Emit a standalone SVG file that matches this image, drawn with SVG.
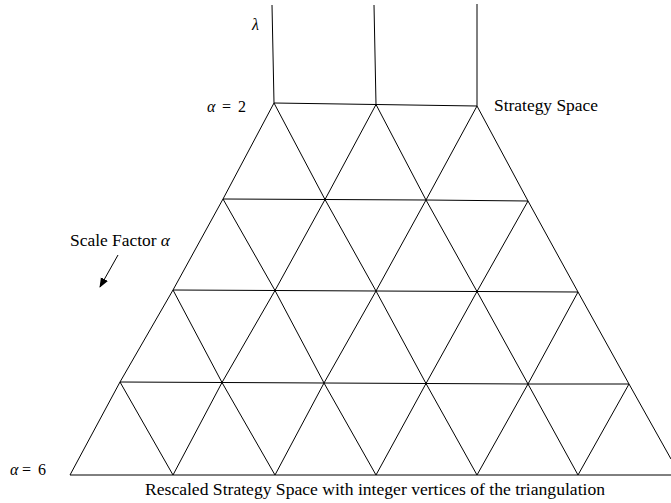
<svg xmlns="http://www.w3.org/2000/svg" width="671" height="503" viewBox="0 0 671 503">
<style>
.l{fill:none;stroke:#000;stroke-width:1;stroke-linejoin:round}
text{font-family:'Liberation Serif','DejaVu Serif',serif;font-size:16px;fill:#000}
.m{font-style:italic}
</style>
<defs>
<marker id="ah" markerWidth="10" markerHeight="10" refX="9" refY="5" orient="auto" markerUnits="userSpaceOnUse">
<path d="M0,1 L10,5 L0,9 Z" fill="#000"/>
</marker>
</defs>
<rect width="671" height="503" fill="#fff"/>
<g id="connectors">
<g id="lambda-axes">
<polyline class="l" points="272,5 274,103"/>
<polyline class="l" points="374,5 376,104.5"/>
<polyline class="l" points="477,4 477,106"/>
</g>
<g id="rows">
<polyline class="l" points="274,103 376,104.5 477,106"/>
<polyline class="l" points="223,199 325,199.5 426,200 528,201"/>
<polyline class="l" points="173,290 275,290.5 376,291 477,291.5 578,292"/>
<polyline class="l" points="120,382 222,382.5 324,383 426,383.5 528,384 629,384"/>
<polyline class="l" points="70,475 671,475"/>
</g>
<g id="diag-left">
<polyline class="l" points="274,103 223,199 173,290 120,382 70,475"/>
<polyline class="l" points="376,104.5 325,199.5 275,290.5 222,382.5 173,475"/>
<polyline class="l" points="477,106 426,200 376,291 324,383 275,475"/>
<polyline class="l" points="528,201 477,291.5 426,383.5 376,475"/>
<polyline class="l" points="578,292 528,384 477,475"/>
<polyline class="l" points="629,384 578,475"/>
</g>
<g id="diag-right">
<polyline class="l" points="477,106 528,201 578,292 629,384 671,459"/>
<polyline class="l" points="376,104.5 426,200 477,291.5 528,384 578,475"/>
<polyline class="l" points="274,103 325,199.5 376,291 426,383.5 477,475"/>
<polyline class="l" points="223,199 275,290.5 324,383 376,475"/>
<polyline class="l" points="173,290 222,382.5 275,475"/>
<polyline class="l" points="120,382 173,475"/>
</g>
<line id="scale-arrow" class="l" x1="118" y1="255" x2="100" y2="287" marker-end="url(#ah)"/>
</g>
<g id="labels">
<text id="lambda" class="m" x="252" y="30">λ</text>
<text id="alpha2" x="207" y="112"><tspan class="m">α</tspan><tspan x="222">=</tspan><tspan x="238">2</tspan></text>
<text id="alpha6" x="10" y="475"><tspan class="m">α</tspan><tspan x="22">=</tspan><tspan x="38">6</tspan></text>
<text id="strategy" x="494" y="111" textLength="104" lengthAdjust="spacingAndGlyphs">Strategy Space</text>
<text id="scale" x="70" y="246" textLength="100" lengthAdjust="spacingAndGlyphs">Scale Factor <tspan class="m">α</tspan></text>
<text id="caption" x="145" y="495" font-size="15" textLength="460" lengthAdjust="spacingAndGlyphs">Rescaled Strategy Space with integer vertices of the triangulation</text>
</g>
</svg>
